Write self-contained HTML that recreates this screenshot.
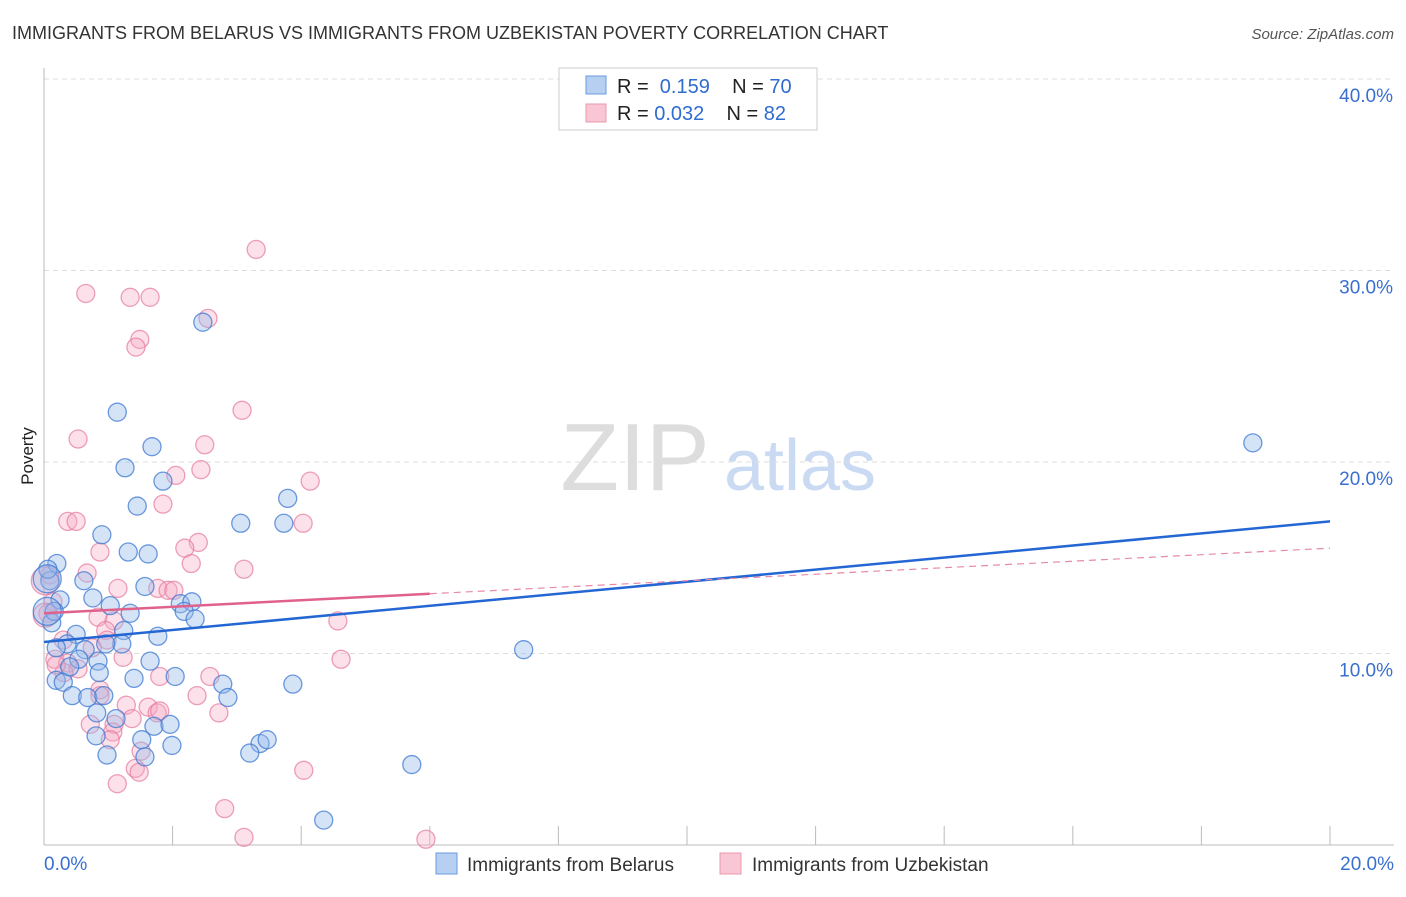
<!DOCTYPE html>
<html><head><meta charset="utf-8"><style>
body{margin:0;background:#fff;font-family:"Liberation Sans",sans-serif}
svg text{font-family:"Liberation Sans",sans-serif}
</style></head><body>
<svg width="1406" height="892" viewBox="0 0 1406 892">
<text x="12" y="39" font-size="18" fill="#333">IMMIGRANTS FROM BELARUS VS IMMIGRANTS FROM UZBEKISTAN POVERTY CORRELATION CHART</text>
<text x="1394" y="39" font-size="15" fill="#555" font-style="italic" text-anchor="end">Source: ZipAtlas.com</text>
<text x="33" y="456" font-size="17" fill="#222" transform="rotate(-90 33 456)" text-anchor="middle">Poverty</text>
<g><text x="635" y="490" font-size="96" fill="#ddd" font-family="Liberation Serif" text-anchor="middle">ZIP</text><text x="800" y="490" font-size="72" fill="#c9daf2" text-anchor="middle">atlas</text></g>
<g id="grid"></g><g id="axes"></g><g id="pts"></g><g id="trend"></g>
<g>
<rect x="559" y="68" width="258" height="62" fill="#fff" stroke="#ccc"/>
<rect x="586" y="76" width="20" height="18" fill="#b7d0f2" stroke="#6a9ae0"/>
<rect x="586" y="104" width="20" height="18" fill="#f8c6d4" stroke="#e79ab1"/>
<text x="617" y="93" font-size="20" fill="#222">R = <tspan fill="#2f6cd0">&#160;0.159</tspan>&#160;&#160;&#160; N = <tspan fill="#2f6cd0">70</tspan></text>
<text x="617" y="120" font-size="20" fill="#222">R = <tspan fill="#2f6cd0">0.032</tspan>&#160;&#160;&#160; N = <tspan fill="#2f6cd0">82</tspan></text>
</g>
<g>
<rect x="436" y="853" width="21" height="21" fill="#b7d0f2" stroke="#6a9ae0"/>
<text x="467" y="871" font-size="19" fill="#333">Immigrants from Belarus</text>
<rect x="720" y="853" width="21" height="21" fill="#f8c6d4" stroke="#e79ab1"/>
<text x="752" y="871" font-size="19" fill="#333">Immigrants from Uzbekistan</text>
</g>
</svg>
<script>
const blueX=[2.47,1.14,1.68,1.26,1.85,1.45,0.90,1.31,1.62,3.06,3.73,3.79,18.80,7.46,0.20,0.09,0.62,1.57,2.12,2.30,2.18,2.35,1.03,0.76,1.34,1.24,1.77,1.21,0.50,0.36,0.64,0.19,0.84,0.54,1.65,0.86,2.04,1.40,0.19,0.30,2.78,3.87,0.44,0.68,0.93,2.86,1.12,0.82,1.71,1.96,1.52,0.81,3.36,3.47,3.20,1.99,0.98,1.57,5.72,4.35,0.12,0.40,0.25,0.96,0.16,0.06,0.05,0.05];
const blueY=[27.3,22.6,20.8,19.7,19.0,17.7,16.2,15.3,15.2,16.8,16.8,18.1,21.0,10.2,14.7,13.8,13.8,13.5,12.6,12.7,12.2,11.8,12.5,12.9,12.1,11.2,10.9,10.5,11.0,10.5,10.2,10.3,9.6,9.7,9.6,9.0,8.8,8.7,8.6,8.5,8.4,8.4,7.8,7.7,7.8,7.7,6.6,6.9,6.2,6.3,5.5,5.7,5.3,5.5,4.8,5.2,4.7,4.6,4.2,1.3,11.6,9.3,12.8,10.5,12.2,14.4,13.9,12.2];
const blueR=[9,9,9,9,9,9,9,9,9,9,9,9,9,9,9,9,9,9,9,9,9,9,9,9,9,9,9,9,9,9,9,9,9,9,9,9,9,9,9,9,9,9,9,9,9,9,9,9,9,9,9,9,9,9,9,9,9,9,9,9,9,9,9,9,9,9,14,14];
const pinkX=[3.30,0.65,1.34,1.65,2.55,1.49,1.43,3.08,0.53,2.50,2.44,2.05,4.14,0.37,0.50,1.85,4.03,0.87,2.40,2.19,2.29,3.11,0.67,0.09,1.15,1.77,1.93,2.02,0.14,0.06,0.84,1.09,0.96,0.98,0.30,0.75,1.23,0.17,0.37,0.53,0.31,2.58,1.80,0.87,2.38,0.87,2.72,1.62,1.76,1.28,1.37,0.72,1.09,1.07,1.03,1.51,1.42,1.48,1.14,4.04,2.81,3.11,5.94,4.62,4.57,0.19,1.80,0.02,0.02];
const pinkY=[31.1,28.8,28.6,28.6,27.5,26.4,26.0,22.7,21.2,20.9,19.6,19.3,19.0,16.9,16.9,17.8,16.8,15.3,15.8,15.5,14.7,14.4,14.2,14.1,13.4,13.4,13.3,13.3,12.7,12.1,11.9,11.7,11.2,10.7,10.7,10.3,9.8,9.7,9.5,9.2,9.0,8.8,8.8,8.1,7.8,7.8,6.9,7.2,6.9,7.3,6.6,6.3,6.3,5.9,5.5,4.9,4.0,3.8,3.2,3.9,1.9,0.4,0.3,9.7,11.7,9.4,7.0,13.8,12.0];
const pinkR=[9,9,9,9,9,9,9,9,9,9,9,9,9,9,9,9,9,9,9,9,9,9,9,9,9,9,9,9,9,9,9,9,9,9,9,9,9,9,9,9,9,9,9,9,9,9,9,9,9,9,9,9,9,9,9,9,9,9,9,9,9,9,9,9,9,9,9,14,12];
const yTicks=[10,20,30,40];
const xTickVals=[0,2,4,6,8,10,12,14,16,18,20];
const blueTrend=[10.6,16.9];
const pinkTrend=[12.1,15.5];
const pinkSolidEnd=6;
const X=v=>44+v*64.3, Y=v=>845-v*19.15;
const NS="http://www.w3.org/2000/svg";
function mk(t,a,p){const e=document.createElementNS(NS,t);for(const k in a)e.setAttribute(k,a[k]);p.appendChild(e);return e;}
const grid=document.getElementById('grid'),axes=document.getElementById('axes'),pts=document.getElementById('pts'),tr=document.getElementById('trend');
yTicks.forEach(v=>{const l=mk('line',{x1:44,x2:1394,y1:Y(v),y2:Y(v),stroke:'#ddd','stroke-dasharray':'5,4'},grid);


const t=mk('text',{x:1393,y:Y(v)+23,'font-size':19,fill:'#3a6fd0','text-anchor':'end'},axes);t.textContent=v.toFixed(1)+'%';

});
const ax=mk('line',{x1:44,x2:44,y1:68,y2:845,stroke:'#bbb'},axes);


const bx=mk('line',{x1:44,x2:1394,y1:845,y2:845,stroke:'#bbb'},axes);


xTickVals.forEach(v=>{const l=mk('line',{x1:X(v),x2:X(v),y1:826,y2:845,stroke:'#bbb'},axes);

});
[[0,'start',44],[20,'end',1394]].forEach(([v,a,x])=>{const t=mk('text',{x:x,y:870,'font-size':19,fill:'#3a6fd0','text-anchor':a},axes);t.textContent=v.toFixed(1)+'%';

});
function draw(xs,ys,rs,fill,stroke,name){xs.forEach((x,i)=>{const c=mk('circle',{cx:X(x),cy:Y(ys[i]),r:rs[i],fill:fill,stroke:stroke,'stroke-width':1.3},pts);

});}
draw(pinkX,pinkY,pinkR,'rgba(245,170,195,0.35)','rgba(230,120,155,0.7)','point-uzbekistan');
draw(blueX,blueY,blueR,'rgba(150,185,235,0.4)','rgba(60,120,210,0.75)','point-belarus');
const bl=mk('line',{x1:X(0),y1:Y(blueTrend[0]),x2:X(20),y2:Y(blueTrend[1]),stroke:'#2467d4','stroke-width':2.5},tr);


const pm=pinkTrend[0]+(pinkTrend[1]-pinkTrend[0])*pinkSolidEnd/20;
const pl=mk('line',{x1:X(0),y1:Y(pinkTrend[0]),x2:X(pinkSolidEnd),y2:Y(pm),stroke:'#e0618c','stroke-width':2.5},tr);


const pd=mk('line',{x1:X(pinkSolidEnd),y1:Y(pm),x2:X(20),y2:Y(pinkTrend[1]),stroke:'#e889a8','stroke-width':1.2,'stroke-dasharray':'7,5'},tr);


</script>
</body></html>
